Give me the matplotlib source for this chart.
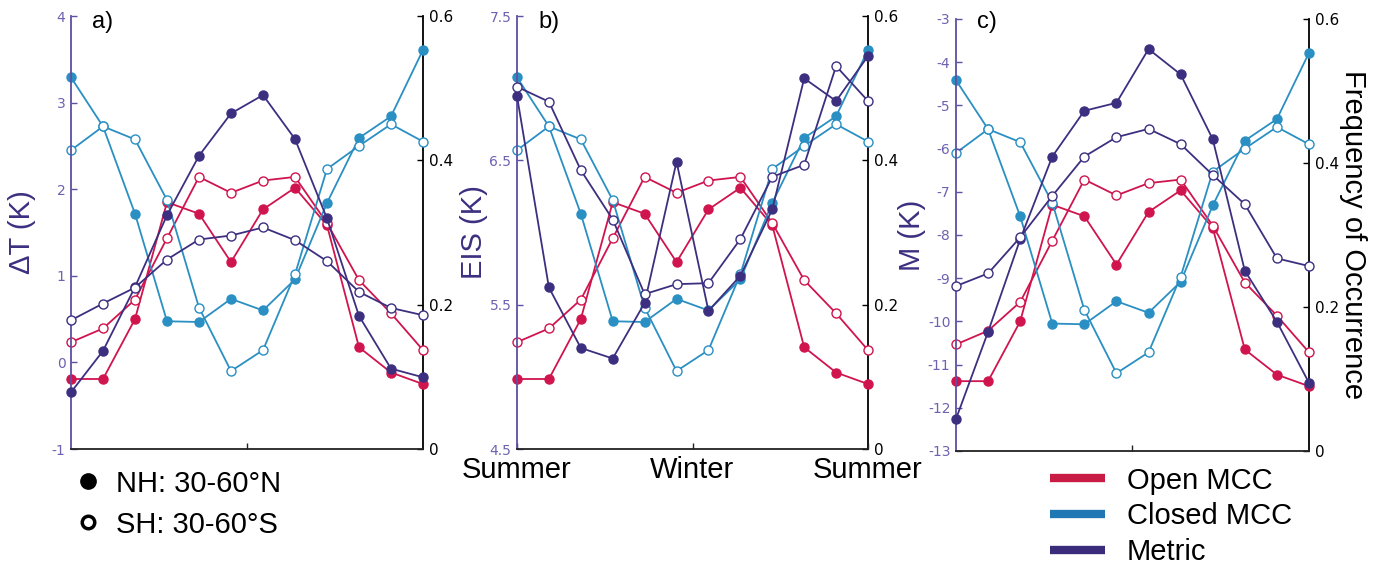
import numpy as np
import matplotlib
matplotlib.use("Agg")
import matplotlib.pyplot as plt
from matplotlib.lines import Line2D

# ---------------- data ----------------
months = [1, 2, 3, 4, 5, 6, 7, 8, 9, 10, 11, 12]
season_ticks = [1, 6.5, 12]
season_labels = ["Summer", "Winter", "Summer"]

open_nh = [0.097, 0.097, 0.180, 0.342, 0.326, 0.259, 0.332, 0.362, 0.310, 0.141, 0.106, 0.090]
open_sh = [0.148, 0.167, 0.207, 0.292, 0.377, 0.355, 0.372, 0.377, 0.313, 0.234, 0.188, 0.137]
closed_nh = [0.515, 0.447, 0.326, 0.177, 0.176, 0.208, 0.192, 0.235, 0.341, 0.431, 0.461, 0.553]
closed_sh = [0.414, 0.447, 0.429, 0.345, 0.196, 0.108, 0.137, 0.242, 0.388, 0.420, 0.450, 0.426]

dT_nh = [-0.345, 0.133, 0.87, 1.70, 2.386, 2.875, 3.087, 2.579, 1.662, 0.537, -0.072, -0.172]
dT_sh = [0.487, 0.68, 0.864, 1.188, 1.419, 1.465, 1.558, 1.411, 1.169, 0.814, 0.629, 0.545]
eis_nh = [6.945, 5.619, 5.200, 5.127, 5.512, 6.490, 5.457, 5.70, 6.16, 7.068, 6.911, 7.223]
eis_sh = [7.010, 6.906, 6.432, 6.090, 5.573, 5.642, 5.649, 5.954, 6.386, 6.469, 7.153, 6.911]
m_nh = [-12.258, -10.241, -8.10, -6.184, -5.125, -4.940, -3.696, -4.283, -5.782, -8.827, -10.009, -11.423]
m_sh = [-9.182, -8.889, -8.054, -7.096, -6.184, -5.736, -5.543, -5.898, -6.609, -7.289, -8.541, -8.719]

freq_ticks = [0, 0.2, 0.4, 0.6]
freq_ticklabels = ["0", "0.2", "0.4", "0.6"]

panels = [
    dict(tag="a)", label="ΔT (K)", nh=dT_nh, sh=dT_sh, ylim=(-1, 4),
         ticks=[-1, 0, 1, 2, 3, 4], ticklabels=["-1", "0", "1", "2", "3", "4"], lab_off=-35),
    dict(tag="b)", label="EIS (K)", nh=eis_nh, sh=eis_sh, ylim=(4.5, 7.5),
         ticks=[4.5, 5.5, 6.5, 7.5], ticklabels=["4.5", "5.5", "6.5", "7.5"], lab_off=-29),
    dict(tag="c)", label="M (K)", nh=m_nh, sh=m_sh, ylim=(-13, -3),
         ticks=list(range(-13, -2)), ticklabels=[str(v) for v in range(-13, -2)], lab_off=-30),
]

# ---------------- style ----------------
RED = "#d0144e"
BLUE = "#2a8fc2"
PURPLE = "#3d2f80"
AXPURPLE = "#5c51a3"
TICKPURPLE = "#6c62b0"
W, H = 1387, 563
FONT = ["Liberation Sans", "DejaVu Sans"]

fig = plt.figure(figsize=(W / 100, H / 100), dpi=100)

# axes positions in pixels: left, top, right, bottom
boxes = [(71, 16, 423, 449), (517, 16, 868, 449), (956, 19, 1309, 451)]

lw = 1.3
ms = 6.5

for i, (p, box) in enumerate(zip(panels, boxes)):
    l, t, r, b = box
    ax = fig.add_axes([l / W, 1 - b / H, (r - l) / W, (b - t) / H])
    ax2 = ax.twinx()

    # frequency (right axis)
    ax2.plot(months, open_nh, color=RED, lw=lw, marker="o", ms=ms, mfc=RED, mec=RED, clip_on=False, zorder=3)
    ax2.plot(months, open_sh, color=RED, lw=lw, marker="o", ms=ms, mfc="white", mec=RED, mew=1.0, clip_on=False, zorder=3)
    ax2.plot(months, closed_nh, color=BLUE, lw=lw, marker="o", ms=ms, mfc=BLUE, mec=BLUE, clip_on=False, zorder=3)
    ax2.plot(months, closed_sh, color=BLUE, lw=lw, marker="o", ms=ms, mfc="white", mec=BLUE, mew=1.0, clip_on=False, zorder=3)
    # metric (left axis)
    ax.plot(months, p["nh"], color=PURPLE, lw=lw, marker="o", ms=ms, mfc=PURPLE, mec=PURPLE, clip_on=False, zorder=3)
    ax.plot(months, p["sh"], color=PURPLE, lw=lw, marker="o", ms=ms, mfc="white", mec=PURPLE, mew=1.0, clip_on=False, zorder=3)
    ax.set_zorder(ax2.get_zorder() + 1)
    ax.patch.set_visible(False)

    ax.set_xlim(1, 12)
    ax.set_ylim(*p["ylim"])
    ax2.set_ylim(0, 0.6)

    ax.set_yticks(p["ticks"])
    ax.set_yticklabels(p["ticklabels"], family="DejaVu Sans", fontsize=10, color=TICKPURPLE)
    ax2.set_yticks(freq_ticks)
    ax2.set_yticklabels(freq_ticklabels, family="DejaVu Sans", fontsize=11, color="black")

    if i == 1:
        ax.set_xticks(season_ticks)
        ax.set_xticklabels(season_labels, family=FONT, fontsize=21)
    else:
        ax.set_xticks([6.5])
        ax.set_xticklabels([""])

    for a in (ax, ax2):
        a.spines["top"].set_visible(False)
    ax.spines["right"].set_visible(False)
    ax2.spines["left"].set_visible(False)
    ax2.spines["bottom"].set_visible(False)
    ax.spines["left"].set_color(AXPURPLE)
    ax.spines["left"].set_linewidth(1.3)
    ax.spines["bottom"].set_color("#222222")
    ax.spines["bottom"].set_linewidth(1.3)
    ax2.spines["right"].set_color("black")
    ax2.spines["right"].set_linewidth(1.3)

    ax.tick_params(axis="y", direction="in", length=4, width=1, color=AXPURPLE, pad=4)
    ax.tick_params(axis="x", direction="in", length=4, width=1, color="#222222", pad=5)
    ax2.tick_params(axis="y", direction="in", length=4, width=1, color="black", pad=4)

    ax.set_ylabel(p["label"], family=FONT, fontsize=21, color=PURPLE)
    ax.yaxis.set_label_coords(p["lab_off"] / (r - l), 0.5)

    ax.text(21 / (r - l), 1 - (22 - t) / (b - t), p["tag"], transform=ax.transAxes,
            family=FONT, fontsize=17, ha="left", va="center")

    if i == 2:
        ax2.set_ylabel("Frequency of Occurrence", family=FONT, fontsize=21,
                       rotation=270, color="black")
        ax2.yaxis.set_label_coords(1 + 58 / (r - l), 0.5)

# ---------------- legends ----------------
hemi_handles = [
    Line2D([], [], ls="none", marker="o", ms=11, mfc="black", mec="black"),
    Line2D([], [], ls="none", marker="o", ms=9, mfc="white", mec="black", mew=2.5),
]
leg1 = fig.legend(hemi_handles, ["NH: 30-60°N", "SH: 30-60°S"],
                  loc="upper left", bbox_to_anchor=(59 / W, 1 - 455 / H),
                  frameon=False, prop={"family": FONT, "size": 21},
                  handlelength=1.0, handletextpad=0.45, labelspacing=0.45, borderpad=0)

type_handles = [
    Line2D([], [], color="#c81c45", lw=6, solid_capstyle="butt"),
    Line2D([], [], color="#1f78b4", lw=6, solid_capstyle="butt"),
    Line2D([], [], color="#3a2c7a", lw=6, solid_capstyle="butt"),
]
leg2 = fig.legend(type_handles, ["Open MCC", "Closed MCC", "Metric"],
                  loc="upper left", bbox_to_anchor=(1035 / W, 1 - 452 / H),
                  frameon=False, prop={"family": FONT, "size": 21},
                  handlelength=1.9, handletextpad=0.75, labelspacing=0.26, borderpad=0)

fig.savefig("out.png", dpi=100)
